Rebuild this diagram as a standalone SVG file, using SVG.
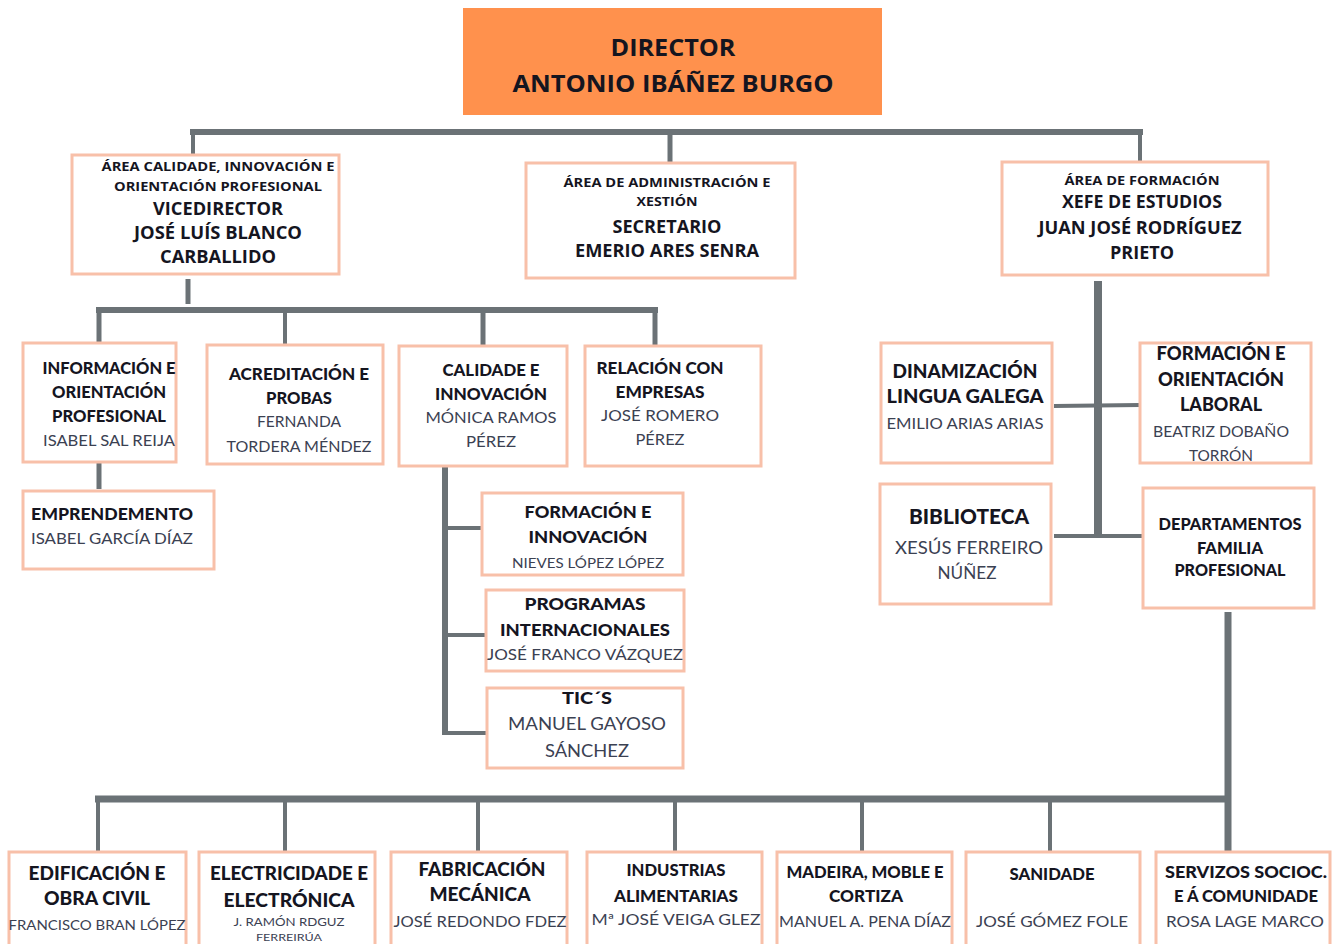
<svg xmlns="http://www.w3.org/2000/svg" width="1339" height="944" viewBox="0 0 1339 944">
<style>
.bx{fill:#fff;stroke:#F8C0A9;stroke-width:3}
.dir{fill:#FF914D}
.c{stroke:#6B7276;fill:none;stroke-linecap:butt}
text{text-anchor:middle}
.h{font-family:"Open Sans","Liberation Sans",sans-serif;font-weight:700;fill:#15151f}
.t{font-family:"Lato","Open Sans",sans-serif;font-weight:900;fill:#15151f}
.n{font-family:"Lato","Open Sans",sans-serif;font-weight:400;fill:#3b4152}
</style>
<rect width="1339" height="944" fill="#fff"/>
<g id="connectors">
<line class="c" x1="190" y1="132" x2="1143" y2="132" stroke-width="6"/>
<line class="c" x1="193" y1="132" x2="193" y2="155" stroke-width="4"/>
<line class="c" x1="670" y1="132" x2="670" y2="162" stroke-width="5"/>
<line class="c" x1="1140" y1="132" x2="1140" y2="162" stroke-width="4"/>
<line class="c" x1="188" y1="279" x2="188" y2="304" stroke-width="5"/>
<line class="c" x1="96" y1="310" x2="658" y2="310" stroke-width="6"/>
<line class="c" x1="99" y1="310" x2="99" y2="343" stroke-width="5"/>
<line class="c" x1="285" y1="310" x2="285" y2="344" stroke-width="4"/>
<line class="c" x1="483" y1="310" x2="483" y2="346" stroke-width="5"/>
<line class="c" x1="655" y1="310" x2="655" y2="346" stroke-width="5"/>
<line class="c" x1="99" y1="462" x2="99" y2="489" stroke-width="5"/>
<line class="c" x1="445" y1="466" x2="445" y2="735" stroke-width="6"/>
<line class="c" x1="445" y1="528" x2="483" y2="528" stroke-width="4"/>
<line class="c" x1="445" y1="635" x2="487" y2="635" stroke-width="4"/>
<line class="c" x1="445" y1="733" x2="488" y2="733" stroke-width="4"/>
<line class="c" x1="1098" y1="281" x2="1098" y2="537" stroke-width="8"/>
<line class="c" x1="1054" y1="406" x2="1140" y2="405" stroke-width="4"/>
<line class="c" x1="1054" y1="536" x2="1143" y2="536" stroke-width="4"/>
<line class="c" x1="1228" y1="612" x2="1228" y2="852" stroke-width="7"/>
<line class="c" x1="95" y1="799" x2="1231" y2="799" stroke-width="7"/>
<line class="c" x1="98" y1="799" x2="98" y2="852" stroke-width="4"/>
<line class="c" x1="285" y1="799" x2="285" y2="852" stroke-width="4"/>
<line class="c" x1="478" y1="799" x2="478" y2="852" stroke-width="4"/>
<line class="c" x1="675" y1="799" x2="675" y2="852" stroke-width="4"/>
<line class="c" x1="862" y1="799" x2="862" y2="852" stroke-width="4"/>
<line class="c" x1="1050" y1="799" x2="1050" y2="852" stroke-width="4"/>
</g>
<g id="director">
<rect class="dir" x="463" y="8" width="419" height="107"/>
<text class="h" x="673" y="56" font-size="24" textLength="125" lengthAdjust="spacingAndGlyphs">DIRECTOR</text>
<text class="h" x="673" y="92" font-size="24" textLength="321" lengthAdjust="spacingAndGlyphs">ANTONIO IBÁÑEZ BURGO</text>
</g>
<g id="vicedirector">
<rect class="bx" x="72" y="155" width="267" height="119"/>
<text class="h" x="218" y="171" font-size="12" textLength="233" lengthAdjust="spacingAndGlyphs">ÁREA CALIDADE, INNOVACIÓN E</text>
<text class="h" x="218" y="191" font-size="12" textLength="208" lengthAdjust="spacingAndGlyphs">ORIENTACIÓN PROFESIONAL</text>
<text class="h" x="218" y="215" font-size="18" textLength="130" lengthAdjust="spacingAndGlyphs">VICEDIRECTOR</text>
<text class="h" x="218" y="239" font-size="18" textLength="168" lengthAdjust="spacingAndGlyphs">JOSÉ LUÍS BLANCO</text>
<text class="h" x="218" y="263" font-size="18" textLength="116" lengthAdjust="spacingAndGlyphs">CARBALLIDO</text>
</g>
<g id="secretario">
<rect class="bx" x="526" y="163" width="269" height="115"/>
<text class="h" x="667" y="187" font-size="12" textLength="207" lengthAdjust="spacingAndGlyphs">ÁREA DE ADMINISTRACIÓN E</text>
<text class="h" x="667" y="206" font-size="12" textLength="61" lengthAdjust="spacingAndGlyphs">XESTIÓN</text>
<text class="h" x="667" y="233" font-size="18" textLength="109" lengthAdjust="spacingAndGlyphs">SECRETARIO</text>
<text class="h" x="667" y="257" font-size="18" textLength="184" lengthAdjust="spacingAndGlyphs">EMERIO ARES SENRA</text>
</g>
<g id="xefe">
<rect class="bx" x="1002" y="162" width="266" height="113"/>
<text class="h" x="1142" y="185" font-size="12" textLength="155" lengthAdjust="spacingAndGlyphs">ÁREA DE FORMACIÓN</text>
<text class="h" x="1142" y="208" font-size="18" textLength="160" lengthAdjust="spacingAndGlyphs">XEFE DE ESTUDIOS</text>
<text class="h" x="1140" y="234" font-size="18" textLength="203" lengthAdjust="spacingAndGlyphs">JUAN JOSÉ RODRÍGUEZ</text>
<text class="h" x="1142" y="259" font-size="18" textLength="64" lengthAdjust="spacingAndGlyphs">PRIETO</text>
</g>
<g id="informacion">
<rect class="bx" x="23" y="343" width="153" height="119"/>
<text class="t" x="109" y="374" font-size="17" textLength="133" lengthAdjust="spacingAndGlyphs">INFORMACIÓN E</text>
<text class="t" x="109" y="398" font-size="17" textLength="114" lengthAdjust="spacingAndGlyphs">ORIENTACIÓN</text>
<text class="t" x="109" y="422" font-size="17" textLength="114" lengthAdjust="spacingAndGlyphs">PROFESIONAL</text>
<text class="n" x="109" y="446" font-size="15" textLength="132" lengthAdjust="spacingAndGlyphs">ISABEL SAL REIJA</text>
</g>
<g id="acreditacion">
<rect class="bx" x="207" y="345" width="176" height="119"/>
<text class="t" x="299" y="380" font-size="17" textLength="140" lengthAdjust="spacingAndGlyphs">ACREDITACIÓN E</text>
<text class="t" x="299" y="404" font-size="17" textLength="66" lengthAdjust="spacingAndGlyphs">PROBAS</text>
<text class="n" x="299" y="427" font-size="15" textLength="84" lengthAdjust="spacingAndGlyphs">FERNANDA</text>
<text class="n" x="299" y="452" font-size="15" textLength="145" lengthAdjust="spacingAndGlyphs">TORDERA MÉNDEZ</text>
</g>
<g id="calidade">
<rect class="bx" x="399" y="346" width="168" height="120"/>
<text class="t" x="491" y="376" font-size="17" textLength="97" lengthAdjust="spacingAndGlyphs">CALIDADE E</text>
<text class="t" x="491" y="400" font-size="17" textLength="112" lengthAdjust="spacingAndGlyphs">INNOVACIÓN</text>
<text class="n" x="491" y="423" font-size="15" textLength="131" lengthAdjust="spacingAndGlyphs">MÓNICA RAMOS</text>
<text class="n" x="491" y="447" font-size="15" textLength="50" lengthAdjust="spacingAndGlyphs">PÉREZ</text>
</g>
<g id="relacion">
<rect class="bx" x="585" y="346" width="176" height="120"/>
<text class="t" x="660" y="374" font-size="17" textLength="127" lengthAdjust="spacingAndGlyphs">RELACIÓN CON</text>
<text class="t" x="660" y="398" font-size="17" textLength="89" lengthAdjust="spacingAndGlyphs">EMPRESAS</text>
<text class="n" x="660" y="421" font-size="15" textLength="118" lengthAdjust="spacingAndGlyphs">JOSÉ ROMERO</text>
<text class="n" x="660" y="445" font-size="15" textLength="49" lengthAdjust="spacingAndGlyphs">PÉREZ</text>
</g>
<g id="emprendemento">
<rect class="bx" x="23" y="491" width="191" height="78"/>
<text class="t" x="112" y="520" font-size="17" textLength="162" lengthAdjust="spacingAndGlyphs">EMPRENDEMENTO</text>
<text class="n" x="112" y="544" font-size="15" textLength="162" lengthAdjust="spacingAndGlyphs">ISABEL GARCÍA DÍAZ</text>
</g>
<g id="formacion-innovacion">
<rect class="bx" x="482" y="493" width="201" height="82"/>
<text class="t" x="588" y="518" font-size="17" textLength="127" lengthAdjust="spacingAndGlyphs">FORMACIÓN E</text>
<text class="t" x="588" y="543" font-size="17" textLength="119" lengthAdjust="spacingAndGlyphs">INNOVACIÓN</text>
<text class="n" x="588" y="568" font-size="13" textLength="152" lengthAdjust="spacingAndGlyphs">NIEVES LÓPEZ LÓPEZ</text>
</g>
<g id="programas">
<rect class="bx" x="486" y="590" width="198" height="81"/>
<text class="t" x="585" y="610" font-size="17" textLength="121" lengthAdjust="spacingAndGlyphs">PROGRAMAS</text>
<text class="t" x="585" y="636" font-size="17" textLength="170" lengthAdjust="spacingAndGlyphs">INTERNACIONALES</text>
<text class="n" x="585" y="660" font-size="15" textLength="196" lengthAdjust="spacingAndGlyphs">JOSÉ FRANCO VÁZQUEZ</text>
</g>
<g id="tics">
<rect class="bx" x="487" y="688" width="196" height="80"/>
<text class="t" x="587" y="704" font-size="17" textLength="50" lengthAdjust="spacingAndGlyphs">TIC´S</text>
<text class="n" x="587" y="730" font-size="17" textLength="158" lengthAdjust="spacingAndGlyphs">MANUEL GAYOSO</text>
<text class="n" x="587" y="757" font-size="17" textLength="84" lengthAdjust="spacingAndGlyphs">SÁNCHEZ</text>
</g>
<g id="dinamizacion">
<rect class="bx" x="881" y="343" width="171" height="120"/>
<text class="t" x="965" y="378" font-size="18" textLength="145" lengthAdjust="spacingAndGlyphs">DINAMIZACIÓN</text>
<text class="t" x="965" y="403" font-size="18" textLength="157" lengthAdjust="spacingAndGlyphs">LINGUA GALEGA</text>
<text class="n" x="965" y="429" font-size="15" textLength="157" lengthAdjust="spacingAndGlyphs">EMILIO ARIAS ARIAS</text>
</g>
<g id="fol">
<rect class="bx" x="1140" y="343" width="171" height="120"/>
<text class="t" x="1221" y="360" font-size="18" textLength="129" lengthAdjust="spacingAndGlyphs">FORMACIÓN E</text>
<text class="t" x="1221" y="386" font-size="18" textLength="126" lengthAdjust="spacingAndGlyphs">ORIENTACIÓN</text>
<text class="t" x="1221" y="411" font-size="18" textLength="82" lengthAdjust="spacingAndGlyphs">LABORAL</text>
<text class="n" x="1221" y="437" font-size="15" textLength="136" lengthAdjust="spacingAndGlyphs">BEATRIZ DOBAÑO</text>
<text class="n" x="1221" y="461" font-size="15" textLength="64" lengthAdjust="spacingAndGlyphs">TORRÓN</text>
</g>
<g id="biblioteca">
<rect class="bx" x="880" y="484" width="171" height="120"/>
<text class="t" x="969" y="524" font-size="20" textLength="120" lengthAdjust="spacingAndGlyphs">BIBLIOTECA</text>
<text class="n" x="969" y="554" font-size="17" textLength="148" lengthAdjust="spacingAndGlyphs">XESÚS FERREIRO</text>
<text class="n" x="967" y="579" font-size="17" textLength="59" lengthAdjust="spacingAndGlyphs">NÚÑEZ</text>
</g>
<g id="departamentos">
<rect class="bx" x="1143" y="488" width="171" height="120"/>
<text class="t" x="1230" y="530" font-size="17" textLength="143" lengthAdjust="spacingAndGlyphs">DEPARTAMENTOS</text>
<text class="t" x="1230" y="554" font-size="17" textLength="66" lengthAdjust="spacingAndGlyphs">FAMILIA</text>
<text class="t" x="1230" y="576" font-size="17" textLength="111" lengthAdjust="spacingAndGlyphs">PROFESIONAL</text>
</g>
<g id="edificacion">
<rect class="bx" x="9" y="852" width="177" height="110"/>
<text class="t" x="97" y="880" font-size="18" textLength="137" lengthAdjust="spacingAndGlyphs">EDIFICACIÓN E</text>
<text class="t" x="97" y="905" font-size="18" textLength="106" lengthAdjust="spacingAndGlyphs">OBRA CIVIL</text>
<text class="n" x="97" y="930" font-size="14" textLength="177" lengthAdjust="spacingAndGlyphs">FRANCISCO BRAN LÓPEZ</text>
</g>
<g id="electricidade">
<rect class="bx" x="199" y="852" width="176" height="110"/>
<text class="t" x="289" y="880" font-size="18" textLength="158" lengthAdjust="spacingAndGlyphs">ELECTRICIDADE E</text>
<text class="t" x="289" y="907" font-size="18" textLength="131" lengthAdjust="spacingAndGlyphs">ELECTRÓNICA</text>
<text class="n" x="289" y="926" font-size="11" textLength="111" lengthAdjust="spacingAndGlyphs">J. RAMÓN RDGUZ</text>
<text class="n" x="289" y="941" font-size="10" textLength="66" lengthAdjust="spacingAndGlyphs">FERREIRÚA</text>
</g>
<g id="fabricacion">
<rect class="bx" x="391" y="852" width="176" height="110"/>
<text class="t" x="482" y="876" font-size="18" textLength="127" lengthAdjust="spacingAndGlyphs">FABRICACIÓN</text>
<text class="t" x="480" y="901" font-size="18" textLength="101" lengthAdjust="spacingAndGlyphs">MECÁNICA</text>
<text class="n" x="480" y="927" font-size="15" textLength="173" lengthAdjust="spacingAndGlyphs">JOSÉ REDONDO FDEZ</text>
</g>
<g id="industrias">
<rect class="bx" x="587" y="852" width="175" height="110"/>
<text class="t" x="676" y="876" font-size="17" textLength="99" lengthAdjust="spacingAndGlyphs">INDUSTRIAS</text>
<text class="t" x="676" y="902" font-size="17" textLength="124" lengthAdjust="spacingAndGlyphs">ALIMENTARIAS</text>
<text class="n" x="676" y="925" font-size="15" textLength="169" lengthAdjust="spacingAndGlyphs">Mª JOSÉ VEIGA GLEZ</text>
</g>
<g id="madeira">
<rect class="bx" x="777" y="852" width="175" height="110"/>
<text class="t" x="865" y="878" font-size="17" textLength="157" lengthAdjust="spacingAndGlyphs">MADEIRA, MOBLE E</text>
<text class="t" x="866" y="902" font-size="17" textLength="74" lengthAdjust="spacingAndGlyphs">CORTIZA</text>
<text class="n" x="865" y="927" font-size="15" textLength="172" lengthAdjust="spacingAndGlyphs">MANUEL A. PENA DÍAZ</text>
</g>
<g id="sanidade">
<rect class="bx" x="966" y="852" width="174" height="110"/>
<text class="t" x="1052" y="880" font-size="17" textLength="85" lengthAdjust="spacingAndGlyphs">SANIDADE</text>
<text class="n" x="1052" y="927" font-size="15" textLength="152" lengthAdjust="spacingAndGlyphs">JOSÉ GÓMEZ FOLE</text>
</g>
<g id="servizos">
<rect class="bx" x="1156" y="852" width="174" height="110"/>
<text class="t" x="1246" y="878" font-size="17" textLength="162" lengthAdjust="spacingAndGlyphs">SERVIZOS SOCIOC.</text>
<text class="t" x="1246" y="902" font-size="17" textLength="144" lengthAdjust="spacingAndGlyphs">E Á COMUNIDADE</text>
<text class="n" x="1245" y="927" font-size="15" textLength="158" lengthAdjust="spacingAndGlyphs">ROSA LAGE MARCO</text>
</g>
</svg>
